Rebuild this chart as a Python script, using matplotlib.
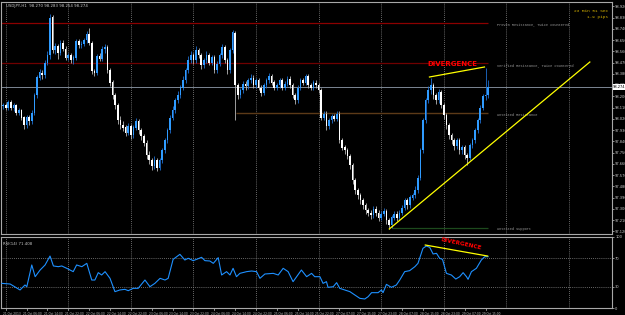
import matplotlib
matplotlib.use('Agg')
import matplotlib.pyplot as plt
import matplotlib.transforms as mtransforms

# USDJPY H1 candles
closes = [98.13, 98.11, 98.15, 98.11, 98.13, 98.07, 98.09, 98.03, 97.97, 98.03,
          98.00, 98.07, 98.21, 98.35, 98.39, 98.37, 98.47, 98.53, 98.83, 98.57,
          98.60, 98.55, 98.63, 98.58, 98.51, 98.53, 98.49, 98.51, 98.64, 98.61,
          98.62, 98.65, 98.70, 98.63, 98.40, 98.39, 98.52, 98.50, 98.58, 98.59,
          98.41, 98.31, 98.21, 98.13, 98.01, 97.97, 97.95, 97.91, 97.96, 97.89,
          97.95, 98.00, 97.93, 97.88, 97.83, 97.73, 97.69, 97.64, 97.69, 97.63,
          97.69, 97.77, 97.85, 97.93, 98.03, 98.09, 98.17, 98.21, 98.27, 98.33,
          98.41, 98.49, 98.53, 98.49, 98.57, 98.53, 98.45, 98.49, 98.53, 98.47,
          98.51, 98.41, 98.46, 98.53, 98.59, 98.49, 98.41, 98.57, 98.71, 98.29,
          98.21, 98.25, 98.30, 98.28, 98.33, 98.35, 98.29, 98.33, 98.27, 98.23,
          98.29, 98.33, 98.36, 98.31, 98.27, 98.29, 98.33, 98.27, 98.30, 98.34,
          98.29, 98.21, 98.17, 98.27, 98.33, 98.31, 98.36, 98.29, 98.27, 98.31,
          98.29, 98.25, 98.03, 98.06, 97.96, 98.01, 98.04, 98.02, 98.06, 97.85,
          97.79, 97.77, 97.72, 97.65, 97.53, 97.45, 97.41, 97.37, 97.33, 97.29,
          97.27, 97.25, 97.30, 97.27, 97.23, 97.26, 97.28, 97.21, 97.17, 97.23,
          97.26, 97.23, 97.27, 97.31, 97.37, 97.33, 97.39, 97.41, 97.45, 97.55,
          97.77, 98.01, 98.17, 98.25, 98.29, 98.21, 98.17, 98.23, 98.13, 98.05,
          97.97, 97.89, 97.85, 97.80, 97.85, 97.77, 97.79, 97.73, 97.71, 97.81,
          97.85, 97.93, 98.01, 98.11, 98.20, 98.21, 98.27]
highs = [98.15, 98.15, 98.17, 98.17, 98.15, 98.14, 98.11, 98.10, 98.04, 98.05,
         98.05, 98.09, 98.23, 98.37, 98.42, 98.41, 98.49, 98.56, 98.86, 98.85,
         98.63, 98.62, 98.65, 98.65, 98.60, 98.55, 98.55, 98.53, 98.66, 98.66,
         98.64, 98.67, 98.72, 98.75, 98.64, 98.42, 98.54, 98.55, 98.60, 98.62,
         98.61, 98.43, 98.33, 98.23, 98.15, 98.04, 98.00, 97.97, 97.99, 97.98,
         97.97, 98.03, 98.02, 97.95, 97.90, 97.85, 97.76, 97.71, 97.72, 97.71,
         97.71, 97.79, 97.87, 97.95, 98.05, 98.12, 98.19, 98.24, 98.29, 98.36,
         98.43, 98.52, 98.56, 98.55, 98.60, 98.59, 98.55, 98.51, 98.56, 98.55,
         98.53, 98.53, 98.48, 98.55, 98.62, 98.61, 98.51, 98.59, 98.73, 98.72,
         98.31, 98.27, 98.32, 98.32, 98.35, 98.38, 98.37, 98.35, 98.35, 98.29,
         98.31, 98.35, 98.39, 98.38, 98.33, 98.31, 98.35, 98.35, 98.32, 98.36,
         98.36, 98.31, 98.23, 98.29, 98.35, 98.35, 98.38, 98.38, 98.31, 98.33,
         98.33, 98.31, 98.27, 98.08, 98.08, 98.03, 98.06, 98.06, 98.08, 98.08,
         97.87, 97.81, 97.79, 97.74, 97.67, 97.55, 97.47, 97.43, 97.39, 97.35,
         97.31, 97.29, 97.32, 97.32, 97.29, 97.28, 97.31, 97.30, 97.23, 97.25,
         97.28, 97.28, 97.29, 97.33, 97.39, 97.39, 97.41, 97.43, 97.48, 97.57,
         97.79, 98.03, 98.19, 98.28, 98.35, 98.31, 98.23, 98.26, 98.25, 98.15,
         98.07, 97.99, 97.91, 97.87, 97.87, 97.87, 97.81, 97.81, 97.75, 97.83,
         97.87, 97.95, 98.03, 98.13, 98.22, 98.43, 98.33]
lows = [98.10, 98.09, 98.09, 98.09, 98.08, 98.05, 98.05, 98.01, 97.94, 97.95,
        97.97, 97.98, 98.05, 98.19, 98.33, 98.34, 98.35, 98.45, 98.50, 98.55,
        98.54, 98.50, 98.53, 98.56, 98.49, 98.49, 98.47, 98.46, 98.49, 98.59,
        98.59, 98.60, 98.63, 98.61, 98.38, 98.36, 98.37, 98.48, 98.48, 98.55,
        98.39, 98.28, 98.18, 98.10, 97.98, 97.94, 97.92, 97.88, 97.89, 97.86,
        97.87, 97.93, 97.90, 97.85, 97.80, 97.70, 97.66, 97.61, 97.62, 97.60,
        97.61, 97.67, 97.75, 97.83, 97.91, 98.01, 98.07, 98.15, 98.19, 98.25,
        98.31, 98.39, 98.47, 98.46, 98.47, 98.51, 98.42, 98.43, 98.47, 98.45,
        98.45, 98.39, 98.39, 98.44, 98.51, 98.47, 98.38, 98.39, 98.55, 98.01,
        98.18, 98.19, 98.23, 98.25, 98.26, 98.31, 98.27, 98.27, 98.25, 98.20,
        98.21, 98.27, 98.31, 98.29, 98.25, 98.25, 98.27, 98.25, 98.25, 98.28,
        98.27, 98.19, 98.14, 98.15, 98.25, 98.29, 98.29, 98.27, 98.25, 98.25,
        98.27, 98.23, 98.01, 98.01, 97.93, 97.94, 97.99, 98.00, 98.00, 97.83,
        97.77, 97.74, 97.70, 97.62, 97.50, 97.42, 97.38, 97.34, 97.30, 97.26,
        97.24, 97.22, 97.23, 97.24, 97.20, 97.21, 97.24, 97.18, 97.14, 97.15,
        97.21, 97.20, 97.21, 97.25, 97.29, 97.30, 97.31, 97.37, 97.39, 97.43,
        97.53, 97.75, 97.99, 98.15, 98.22, 98.18, 98.14, 98.15, 98.11, 98.02,
        97.94, 97.86, 97.82, 97.77, 97.78, 97.74, 97.74, 97.70, 97.65, 97.69,
        97.79, 97.83, 97.91, 97.99, 98.09, 98.17, 98.19]
first_open = 98.12
opens = [first_open] + closes[:-1]

# RSI(14) trace: bar position, value
rsi_x = [-0.5, 2.7, 6.5, 8.4, 9.1, 11.0, 12.3, 14.2, 16.1, 18.0, 19.3, 21.2, 22.5, 24.4,
         26.9, 28.2, 30.2, 32.1, 34.0, 35.2, 36.5, 37.8, 39.1, 41.0, 42.9, 44.8, 46.7,
         48.0, 49.9, 51.8, 54.4, 56.3, 58.2, 60.2, 62.1, 63.3, 65.2, 67.8, 69.7, 71.0,
         72.9, 74.2, 76.1, 77.4, 79.3, 80.6, 82.5, 83.8, 85.7, 87.0, 88.2, 89.5, 90.8,
         93.4, 95.3, 97.2, 98.5, 100.4, 103.6, 105.5, 107.4, 109.3, 111.2, 114.4, 116.4,
         118.3, 119.5, 121.5, 122.7, 124.0, 124.6, 126.6, 127.9, 129.1, 133.0, 134.9,
         136.8, 138.7, 140.0, 141.3, 143.8, 145.1, 145.7, 147.0, 148.9, 150.8, 152.1,
         154.0, 155.9, 157.9, 159.1, 161.0, 162.3, 163.6, 164.9, 166.2, 167.4, 168.5,
         170.0, 171.9, 173.6, 175.1, 176.4, 177.7, 178.3, 179.6, 181.5, 183.4, 184.7, 186.0]
rsi_val = [34.7, 33.8, 25.4, 32.4, 30.0, 60.6, 44.1, 53.5, 60.6, 73.2, 59.2, 58.2, 59.2, 55.9,
           51.2, 60.6, 58.2, 62.9, 39.4, 39.4, 49.8, 46.5, 51.2, 41.8, 23.0, 25.4, 26.3,
           24.4, 27.7, 27.7, 39.4, 30.0, 34.7, 41.8, 39.4, 41.8, 68.5, 75.6, 67.6, 70.0,
           66.7, 68.5, 71.4, 66.7, 66.2, 62.9, 70.9, 46.5, 51.2, 46.5, 55.9, 44.1, 48.8,
           51.2, 52.1, 51.2, 41.8, 47.9, 48.8, 46.5, 55.9, 51.2, 37.1, 53.5, 44.1,
           48.8, 44.1, 44.1, 34.7, 37.1, 29.1, 30.0, 35.7, 27.7, 23.0, 18.3,
           13.6, 12.7, 16.0, 21.6, 21.6, 25.4, 21.6, 33.3, 29.1, 32.4, 39.4,
           51.2, 52.6, 58.2, 62.9, 84.0, 87.3, 85.4, 76.1, 77.0, 70.0, 68.5,
           48.8, 46.5, 40.8, 44.1, 49.8, 44.1, 40.4, 51.2, 55.9, 67.6, 72.3, 72.3]

date_labels = ["21 Oct 2013", "21 Oct 06:00", "21 Oct 14:00", "21 Oct 22:00", "22 Oct 06:00",
               "22 Oct 14:00", "22 Oct 22:00", "23 Oct 06:00", "23 Oct 14:00", "23 Oct 22:00",
               "24 Oct 06:00", "24 Oct 14:00", "24 Oct 22:00", "25 Oct 06:00", "25 Oct 14:00",
               "25 Oct 22:00", "27 Oct 07:00", "27 Oct 15:00", "27 Oct 23:00", "28 Oct 07:00",
               "28 Oct 15:00", "28 Oct 23:00", "29 Oct 07:00", "29 Oct 15:00"]
price_ticks = [98.920, 98.830, 98.740, 98.650, 98.560, 98.470, 98.380, 98.290, 98.200, 98.110,
               98.020, 97.930, 97.840, 97.750, 97.660, 97.570, 97.480, 97.390, 97.300, 97.210, 97.120]
rsi_ticks = [0, 30, 70, 100]

bid = 98.274
proven_res = 98.786
verified_res = 98.466
untested_res = 98.066
untested_sup = 97.146

W, H = 625., 315.
fig = plt.figure(figsize=(W/100, H/100), dpi=100, facecolor='black')

def px_axes(x0, y0, x1, y1):
    a = fig.add_axes([x0/W, 1 - y1/H, (x1 - x0)/W, (y1 - y0)/H])
    a.set_facecolor('black')
    for s in a.spines.values():
        s.set_color('#a8a8a8')
        s.set_linewidth(0.8)
    return a

ax = px_axes(1, 2, 612, 234)
ax2 = px_axes(1, 237, 612, 308)
XLIM = (-0.8, 233.5)
for a in (ax, ax2):
    a.set_xlim(*XLIM)
    a.set_xticks([])
    for g in range(1, 230, 24):
        a.axvline(g, color='#8a8a8a', lw=0.6, ls=(0, (1, 1.5)), zorder=0)

ax.set_ylim(97.098, 98.954)

# candles
idx = list(range(len(closes)))
bull = [c >= o for o, c in zip(opens, closes)]
wick_c = ['#1f6fcf' if b else '#b8b8b8' for b in bull]
body_c = ['#2f9bff' if b else '#ffffff' for b in bull]
ax.vlines(idx, lows, highs, colors=wick_c, lw=0.6, zorder=2)
heights = [max(abs(c - o), 0.004) for o, c in zip(opens, closes)]
bottoms = [min(o, c) for o, c in zip(opens, closes)]
ax.bar(idx, heights, bottom=bottoms, width=0.62, color=body_c, lw=0, zorder=3)

last = len(closes) - 1
# support / resistance lines
ax.axhline(bid, color='#7c8794', lw=0.7, zorder=1)
ax.hlines(proven_res, XLIM[0], last, color='#8c0000', lw=0.9, zorder=1)
ax.hlines(verified_res, XLIM[0], last, color='#700000', lw=0.9, zorder=1)
ax.hlines(untested_res, 89.5, last, color='#5c3a18', lw=1.0, zorder=1)
ax.hlines(untested_sup, 149, last, color='#1d4a1d', lw=0.9, zorder=1)

lab_kw = dict(fontsize=2.6, color='#9a9a9a', family='Liberation Mono', va='center', ha='left')
ax.text(189.5, proven_res - 0.016, 'Proven Resistance, Twice Countered', **lab_kw)
ax.text(189.5, verified_res - 0.024, 'Verified Resistance, Twice Countered', **lab_kw)
ax.text(189.5, untested_res - 0.016, 'Untested Resistance', **lab_kw)
ax.text(189.5, untested_sup - 0.008, 'Untested Support', **lab_kw)

# trend line and divergence
ax.plot([148.1, 225.0], [97.138, 98.474], color='#ffff00', lw=0.9, zorder=4)
ax.plot([163.5, 184.6], [98.354, 98.434], color='#ffff00', lw=0.9, zorder=4)
ax.text(172.1, 98.462, 'DIVERGENCE', color='#ff0000', fontsize=5, fontweight='bold',
        ha='center', va='center', zorder=5)

# price scale
ax.yaxis.tick_right()
ax.set_yticks(price_ticks)
ax.set_yticklabels(['%.3f' % p for p in price_ticks])
ax.tick_params(axis='y', colors='#c8c8c8', labelsize=2.6, length=1.5, width=0.5, pad=0.8)
ax.text(1.002, bid, '%.3f' % bid, transform=mtransforms.blended_transform_factory(ax.transAxes, ax.transData),
        fontsize=2.6, color='black', va='center', ha='left', zorder=6,
        bbox=dict(facecolor='white', edgecolor='none', pad=0.4), clip_on=False)

ax.text(0.008, 0.993, 'USDJPY,H1  98.270 98.283 98.254 98.274', transform=ax.transAxes,
        fontsize=2.8, color='#d0d0d0', va='top', ha='left')
ax.text(0.994, 0.962, '23 Min 51 Sec', transform=ax.transAxes, fontsize=3.2,
        color='#d8b400', family='Liberation Mono', va='center', ha='right')
ax.text(0.994, 0.935, '1.9 pips', transform=ax.transAxes, fontsize=3.2,
        color='#d8b400', family='Liberation Mono', va='center', ha='right')

# RSI window
ax2.set_ylim(0, 100)
ax2.plot(rsi_x, rsi_val, color='#1e90ff', lw=0.8, zorder=3)
for lvl in (30, 70):
    ax2.axhline(lvl, color='#8a8a8a', lw=0.6, ls=(0, (1, 1.5)), zorder=0)
ax2.plot([161.9, 185.8], [88.7, 73.2], color='#ffff00', lw=0.9, zorder=4)
ax2.text(175.6, 90.5, 'DIVERGENCE', color='#ff0000', fontsize=4.2, fontweight='bold',
         ha='center', va='center', rotation=-12, zorder=5)
ax2.text(0.004, 0.93, 'RSI(14) 71.408', transform=ax2.transAxes, fontsize=2.8,
         color='#c8c8c8', va='top', ha='left')
ax2.yaxis.tick_right()
ax2.set_yticks(rsi_ticks)
ax2.set_yticklabels([str(t) for t in rsi_ticks])
ax2.tick_params(axis='y', colors='#c8c8c8', labelsize=2.6, length=1.5, width=0.5, pad=0.8)

# time axis
bt = mtransforms.blended_transform_factory(ax2.transData, ax2.transAxes)
for k, lab in enumerate(date_labels):
    xb = 1 + 8 * k
    ax2.plot([xb, xb], [0, -0.03], color='#c8c8c8', lw=0.5, transform=bt, clip_on=False)
    ax2.text(xb - 1.2, -0.05, lab, transform=bt, fontsize=2.05, color='#c8c8c8',
             ha='left', va='top', clip_on=False)

fig.savefig('out.png', dpi=100, facecolor='black')
